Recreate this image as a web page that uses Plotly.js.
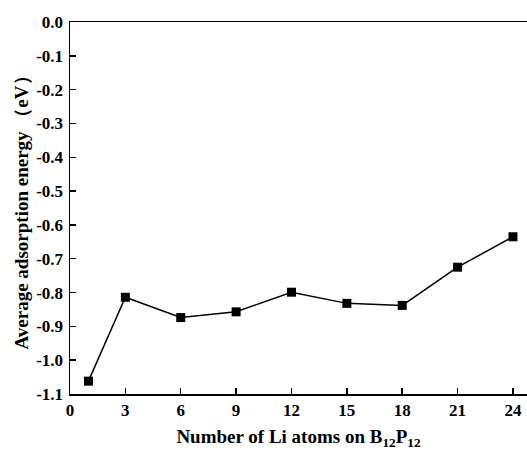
<!DOCTYPE html>
<html>
<head>
<meta charset="utf-8">
<script src="https://cdn.plot.ly/plotly-3.0.1.min.js"></script>
<style>html,body{margin:0;padding:0;background:#fff}#chart{width:527px;height:455px}</style>
</head>
<body>
<div id="chart"></div>
<script>
const liAtoms = [1, 3, 6, 9, 12, 15, 18, 21, 24];
const avgEnergy = [-1.062, -0.814, -0.874, -0.857, -0.799, -0.832, -0.838, -0.725, -0.635];
const yTickVals = [0, -0.1, -0.2, -0.3, -0.4, -0.5, -0.6, -0.7, -0.8, -0.9, -1.0, -1.1];
const yTickText = ["0.0", "-0.1", "-0.2", "-0.3", "-0.4", "-0.5", "-0.6", "-0.7", "-0.8", "-0.9", "-1.0", "-1.1"];
const xTickVals = [0, 3, 6, 9, 12, 15, 18, 21, 24];

const fam = "Liberation Serif, Times New Roman, serif";

const trace = {
  x: liAtoms, y: avgEnergy, type: "scatter", mode: "lines+markers",
  line: {color: "#000", width: 1.5},
  marker: {symbol: "square", size: 9, color: "#000"},
  cliponaxis: false
};

const layout = {
  width: 527, height: 455,
  margin: {l: 70, r: 0, t: 22, b: 61},
  paper_bgcolor: "#fff", plot_bgcolor: "#fff",
  showlegend: false,
  font: {family: fam, size: 17, weight: "bold", color: "#000"},
  xaxis: {
    range: [0, 24.76], showgrid: false, zeroline: false,
    showline: true, linecolor: "#000", linewidth: 1.5, mirror: true,
    ticks: "inside", ticklen: 6, tickwidth: 1.5, tickcolor: "#000",
    tickvals: xTickVals,
    tickfont: {family: fam, size: 17, weight: "bold", color: "#000"},
    title: {text: "Number of Li atoms on B<sub>12</sub>P<sub>12</sub>", standoff: 11,
      font: {family: fam, size: 19, weight: "bold", color: "#000"}}
  },
  yaxis: {
    range: [-1.1, 0], showgrid: false, zeroline: false,
    showline: true, linecolor: "#000", linewidth: 1.5,
    ticks: "inside", ticklen: 6, tickwidth: 1.5, tickcolor: "#000",
    tickvals: yTickVals, ticktext: yTickText,
    tickfont: {family: fam, size: 17, weight: "bold", color: "#000"},
    ticklabelstandoff: 2,
    title: {text: "Average adsorption energy （eV）", standoff: 2,
      font: {family: fam, size: 19, weight: "bold", color: "#000"}}
  }
};

Plotly.newPlot("chart", [trace], layout, {staticPlot: true, displayModeBar: false});
</script>
</body>
</html>
